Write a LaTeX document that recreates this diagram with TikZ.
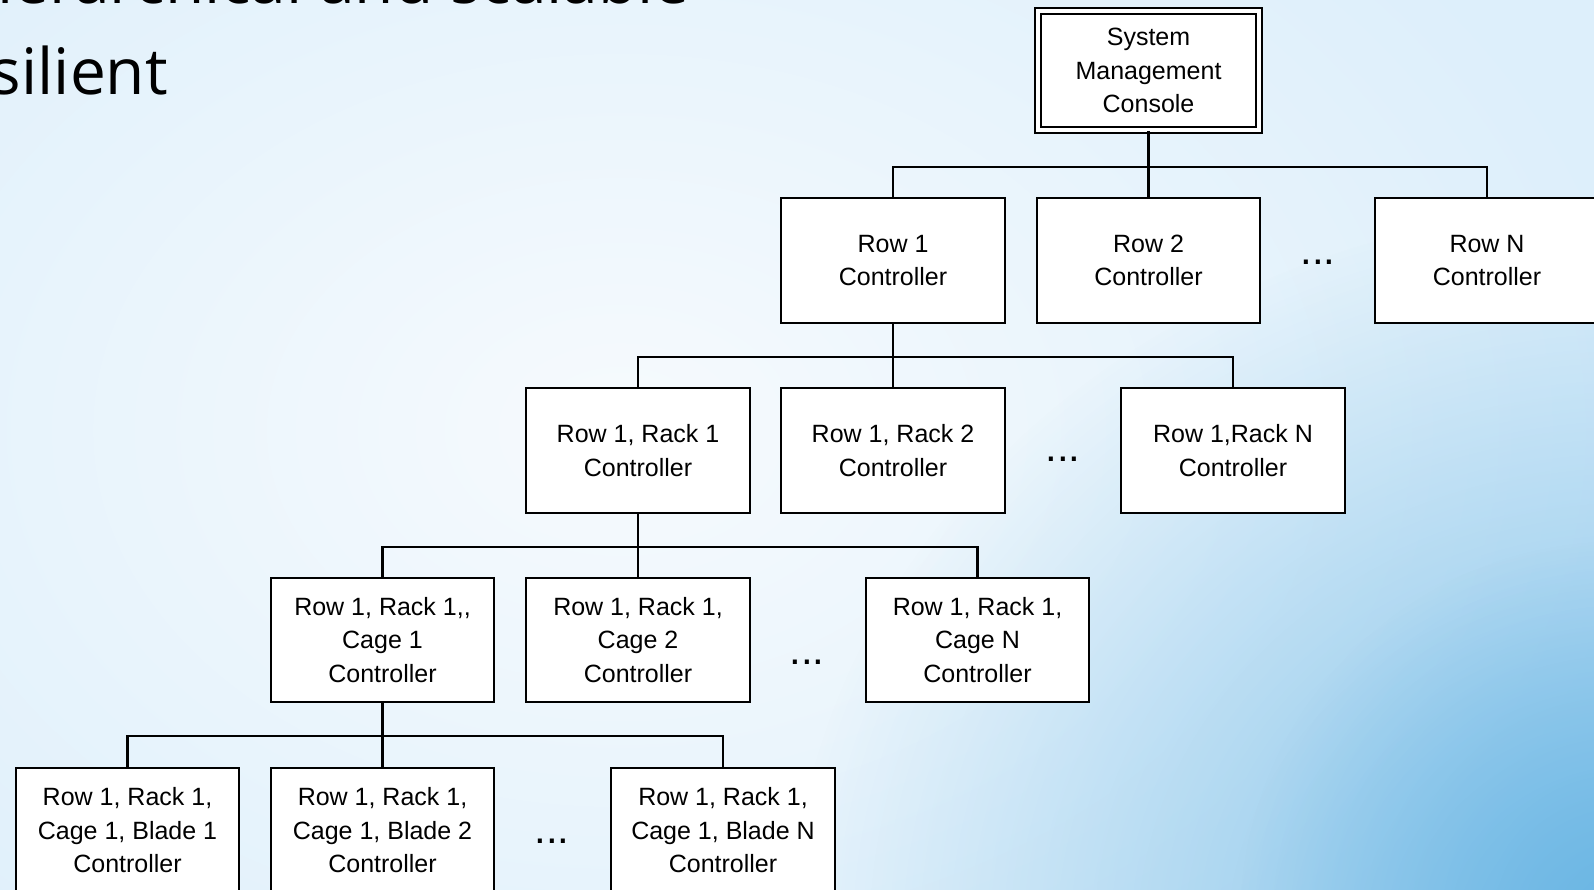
\documentclass[tikz,border=0pt]{standalone}
\usepackage{fontspec}
\setmainfont{Liberation Sans}
\newfontfamily\titlefont{Open Sans}
\usetikzlibrary{fadings}
\tikzfading[name=softout, inner color=transparent!0, outer color=transparent!100]
\definecolor{bgbase}{HTML}{DDEFFB}
\definecolor{bgwhite}{HTML}{F7FBFE}
\definecolor{bgblue}{HTML}{5AAEE1}
\begin{document}
\begin{tikzpicture}[x=1pt,y=-1pt,
  ctrl/.style={draw=black, line width=2.2pt, fill=white, minimum width=223.5pt, minimum height=124.5pt,
    align=center, inner sep=0pt, font=\fontsize{25}{33.5}\selectfont},
  smcbox/.style={draw=black, line width=2pt, double=white, double distance=3.8pt, fill=white,
    minimum width=221pt, minimum height=119pt, align=center, inner sep=0pt,
    font=\fontsize{25}{33.5}\selectfont},
  wire/.style={draw=black, line width=2.2pt},
  dotsnode/.style={font=\fontsize{42}{44}\selectfont, inner sep=0pt, anchor=center},
  titletext/.style={font=\titlefont\fontsize{64}{70}\selectfont, inner sep=0pt, anchor=base east}]
\useasboundingbox (0,0) rectangle (1594,890);
\begin{scope}
  \clip (0,0) rectangle (1594,890);
  \fill[bgbase] (0,0) rectangle (1594,890);
  \fill[bgwhite, path fading=softout] (620,430) ellipse (1050pt and 750pt);
  \fill[bgblue, opacity=0.75, path fading=softout] (1640,940) ellipse (850pt and 740pt);
  \fill[bgblue, opacity=0.6, path fading=softout] (1620,920) circle (380pt);
\end{scope}
% slide text (cut by the frame)
\node[titletext] (t1) at (690,4) {Hierarchical and scalable};
\node[titletext] (t2) at (168,95) {Resilient};
% level 0
\node[smcbox] (smc) at (1148.5,70.5) {System\\Management\\Console};
% level 1
\node[ctrl] (row1) at (893,260.5) {Row 1\\Controller};
\node[ctrl] (row2) at (1148.5,260.5) {Row 2\\Controller};
\node[ctrl] (rowN) at (1487,260.5) {Row N\\Controller};
\node[dotsnode] (d1) at (1318,262) {...};
% level 2
\node[ctrl] (rack1) at (638,450.5) {Row 1, Rack 1\\Controller};
\node[ctrl] (rack2) at (893,450.5) {Row 1, Rack 2\\Controller};
\node[ctrl] (rackN) at (1233,450.5) {Row 1,Rack N\\Controller};
\node[dotsnode] (d2) at (1063,459) {...};
% level 3
\node[ctrl] (cage1) at (382.5,640) {Row 1, Rack 1,{},\\Cage 1\\Controller};
\node[ctrl] (cage2) at (638,640) {Row 1, Rack 1,\\Cage 2\\Controller};
\node[ctrl] (cageN) at (977.5,640) {Row 1, Rack 1,\\Cage N\\Controller};
\node[dotsnode] (d3) at (807,662) {...};
% level 4
\node[ctrl] (blade1) at (127.5,830.5) {Row 1, Rack 1,\\Cage 1, Blade 1\\Controller};
\node[ctrl] (blade2) at (382.5,830.5) {Row 1, Rack 1,\\Cage 1, Blade 2\\Controller};
\node[ctrl] (bladeN) at (723,830.5) {Row 1, Rack 1,\\Cage 1, Blade N\\Controller};
\node[dotsnode] (d4) at (552,841) {...};
% buses
\coordinate (bus0) at (1148.5,167);
\coordinate (bus1) at (893,357);
\coordinate (bus2) at (638,547);
\coordinate (bus3) at (382.5,736);
\draw[wire] (smc.south) -- (bus0);
\draw[wire] (row1.north) -- (row1.north |- bus0) -- (rowN.north |- bus0) -- (rowN.north);
\draw[wire] (row2.north) -- (row2.north |- bus0);
\draw[wire] (row1.south) -- (rack2.north);
\draw[wire] (rack1.north) -- (rack1.north |- bus1) -- (rackN.north |- bus1) -- (rackN.north);
\draw[wire] (rack1.south) -- (cage2.north);
\draw[wire] (cage1.north) -- (cage1.north |- bus2) -- (cageN.north |- bus2) -- (cageN.north);
\draw[wire] (cage1.south) -- (blade2.north);
\draw[wire] (blade1.north) -- (blade1.north |- bus3) -- (bladeN.north |- bus3) -- (bladeN.north);
\end{tikzpicture}
\end{document}
